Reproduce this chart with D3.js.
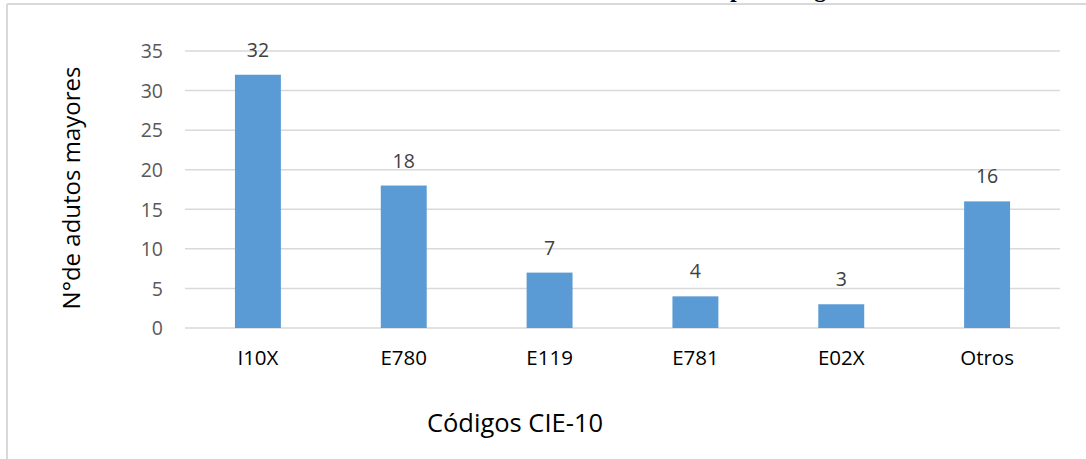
<!DOCTYPE html>
<html>
<head>
<meta charset="utf-8">
<script src="https://cdn.jsdelivr.net/npm/d3@7"></script>
<style>
  html, body { margin: 0; padding: 0; background: #fff; }
  svg { display: block; }
</style>
</head>
<body>
<svg id="chart" width="1086" height="459"></svg>
<script>
// Códigos CIE-10 y número de adultos mayores
const categories = ["I10X", "E780", "E119", "E781", "E02X", "Otros"];
const values = [32, 18, 7, 4, 3, 16];
const yTicks = [0, 5, 10, 15, 20, 25, 30, 35];

const svg = d3.select("#chart");
const W = 1086, H = 459;
const font = "'Open Sans', sans-serif";

// Chart frame (left and top edges visible)
svg.append("line").attr("x1", 7).attr("x2", 7).attr("y1", 4).attr("y2", H)
  .attr("stroke", "#d9d9d9").attr("stroke-width", 2);
svg.append("line").attr("x1", 7).attr("x2", W).attr("y1", 4).attr("y2", 4)
  .attr("stroke", "#d9d9d9").attr("stroke-width", 2);

// Title sits above the frame, only its descenders reach into view
svg.append("text").attr("x", 730).attr("y", -3.5)
  .attr("font-family", "'Liberation Serif', serif").attr("font-weight", "bold")
  .attr("font-size", 24).attr("fill", "#000").text("por código");

const plot = { left: 185, right: 1060, top: 51, bottom: 328 };

const x = d3.scaleBand().domain(categories).range([plot.left, plot.right]).padding(0);
const y = d3.scaleLinear().domain([0, 35]).range([plot.bottom, plot.top]);
const barW = x.bandwidth() * 0.315;

// Horizontal gridlines
svg.append("g").selectAll("line").data(yTicks).join("line")
  .attr("x1", plot.left).attr("x2", plot.right)
  .attr("y1", d => y(d)).attr("y2", d => y(d))
  .attr("stroke", "#d9d9d9").attr("stroke-width", 1.5);

// Y axis tick labels
const yAxis = d3.axisLeft(y).tickValues(yTicks).tickSize(0).tickPadding(0);
const gy = svg.append("g").attr("transform", `translate(${plot.left - 22},0)`).call(yAxis);
gy.select(".domain").remove();
gy.selectAll("text").attr("font-family", font).attr("font-size", 19.5)
  .attr("fill", "#595959").attr("dy", "0.35em");

// X axis category labels
const xAxis = d3.axisBottom(x).tickSize(0).tickPadding(0);
const gx = svg.append("g").attr("transform", `translate(0,365)`).call(xAxis);
gx.select(".domain").remove();
gx.selectAll("text").attr("font-family", font).attr("font-size", 20.5)
  .attr("fill", "#000").attr("y", 0).attr("dy", 0);

// Bars
svg.append("g").selectAll("rect").data(values).join("rect")
  .attr("x", (d, i) => x(categories[i]) + x.bandwidth() / 2 - barW / 2)
  .attr("width", barW)
  .attr("y", d => y(d))
  .attr("height", d => y(0) - y(d))
  .attr("fill", "#5b9bd5");

// Value labels
svg.append("g").selectAll("text").data(values).join("text")
  .attr("x", (d, i) => x(categories[i]) + x.bandwidth() / 2)
  .attr("y", d => y(d) - 18)
  .attr("text-anchor", "middle")
  .attr("font-family", font).attr("font-size", 19.5).attr("fill", "#404040")
  .text(d => d);

// Axis titles
svg.append("text")
  .attr("transform", `translate(80,188) rotate(-90)`)
  .attr("text-anchor", "middle")
  .attr("font-family", font).attr("font-size", 24).attr("fill", "#000")
  .text("N°de adutos mayores");

svg.append("text").attr("x", 515).attr("y", 432)
  .attr("text-anchor", "middle")
  .attr("font-family", font).attr("font-size", 25.5).attr("fill", "#000")
  .text("Códigos CIE-10");
</script>
</body>
</html>
